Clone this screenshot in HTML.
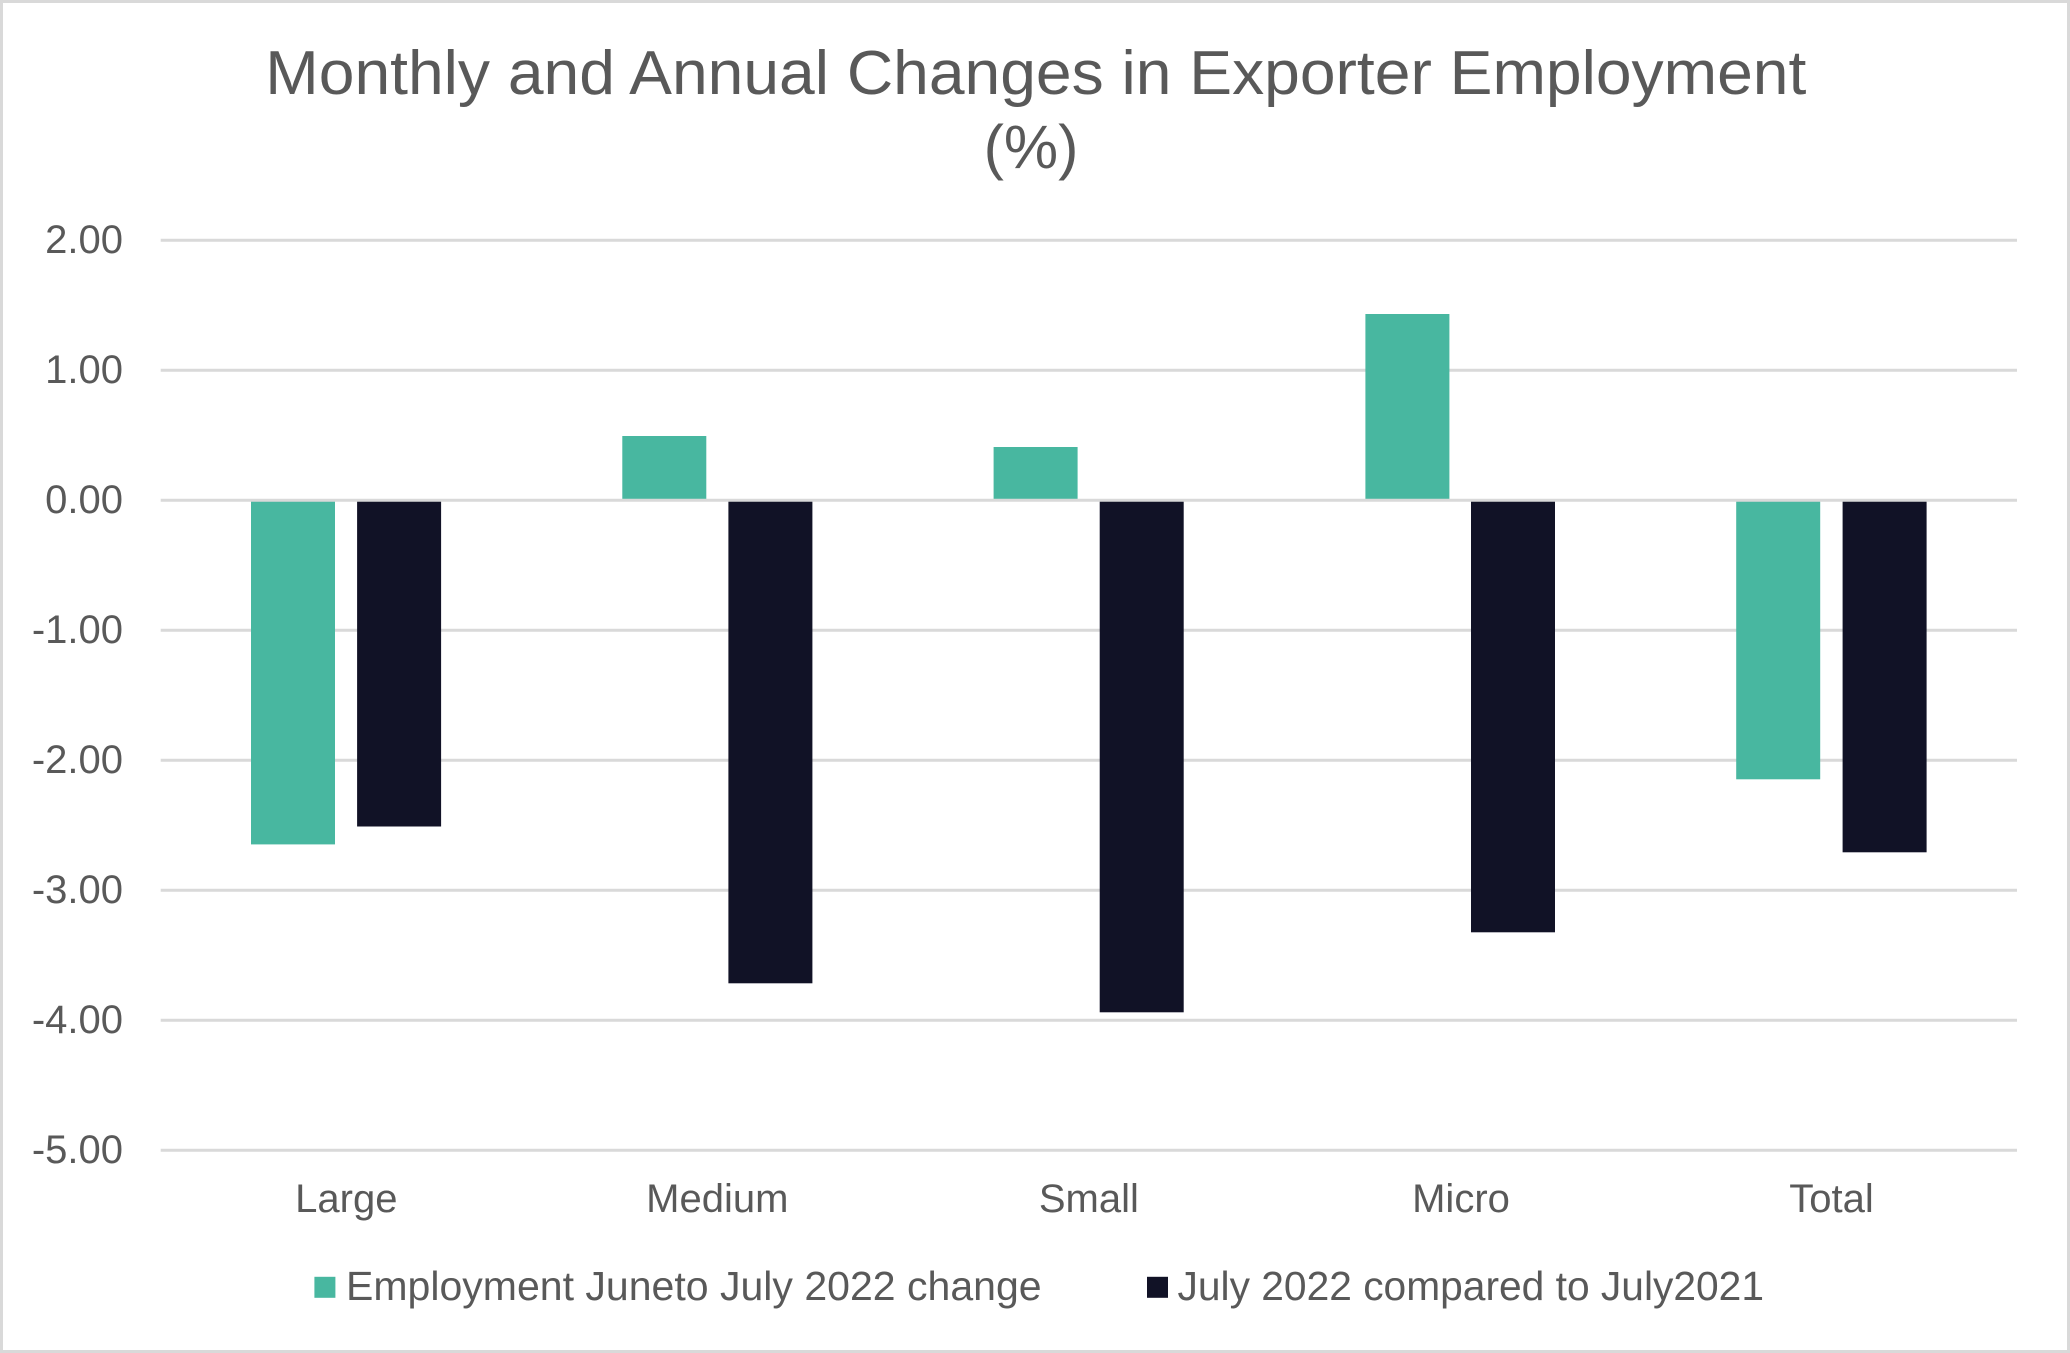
<!DOCTYPE html>
<html>
<head>
<meta charset="utf-8">
<style>
  html, body { margin: 0; padding: 0; background: #ffffff; }
  svg { display: block; }
  text { font-family: "Liberation Sans", Arial, sans-serif; fill: #595959; }
</style>
</head>
<body>
<svg width="2070" height="1353" viewBox="0 0 2070 1353" xmlns="http://www.w3.org/2000/svg">
  <rect x="0" y="0" width="2070" height="1353" fill="#ffffff"/>
  <rect x="1.5" y="1.5" width="2067" height="1350" fill="none" stroke="#D9D9D9" stroke-width="3"/>

  <!-- Title -->
  <text x="265.3" y="94" font-size="62" textLength="1541" lengthAdjust="spacingAndGlyphs">Monthly and Annual Changes in Exporter Employment</text>
  <text x="1031" y="168" font-size="61" text-anchor="middle">(%)</text>

  <!-- Gridlines -->
  <g stroke="#D9D9D9" stroke-width="3">
    <line x1="160.7" y1="240.3" x2="2017" y2="240.3"/>
    <line x1="160.7" y1="370.3" x2="2017" y2="370.3"/>
    <line x1="160.7" y1="630.3" x2="2017" y2="630.3"/>
    <line x1="160.7" y1="760.3" x2="2017" y2="760.3"/>
    <line x1="160.7" y1="890.3" x2="2017" y2="890.3"/>
    <line x1="160.7" y1="1020.3" x2="2017" y2="1020.3"/>
    <line x1="160.7" y1="1150.3" x2="2017" y2="1150.3"/>
  </g>

  <!-- Y labels -->
  <g font-size="40" text-anchor="end">
    <text x="123" y="253.2">2.00</text>
    <text x="123" y="383.2">1.00</text>
    <text x="123" y="513.2">0.00</text>
    <text x="123" y="643.2">-1.00</text>
    <text x="123" y="773.2">-2.00</text>
    <text x="123" y="903.2">-3.00</text>
    <text x="123" y="1033.2">-4.00</text>
    <text x="123" y="1163.2">-5.00</text>
  </g>

  <!-- Bars: green series -->
  <g fill="#48B7A0">
    <rect x="251" y="500.3" width="84" height="344.1"/>
    <rect x="622.3" y="436" width="84" height="64.3"/>
    <rect x="993.6" y="447" width="84" height="53.3"/>
    <rect x="1365.4" y="314" width="84" height="186.3"/>
    <rect x="1736.2" y="500.3" width="84" height="279"/>
  </g>
  <!-- Bars: dark series -->
  <g fill="#111226">
    <rect x="357.1" y="500.3" width="84" height="326.2"/>
    <rect x="728.4" y="500.3" width="84" height="483"/>
    <rect x="1099.7" y="500.3" width="84" height="512"/>
    <rect x="1471" y="500.3" width="84" height="432"/>
    <rect x="1842.6" y="500.3" width="84" height="352"/>
  </g>

  <!-- Zero axis line on top -->
  <line x1="160.7" y1="500.3" x2="2017" y2="500.3" stroke="#D9D9D9" stroke-width="3"/>

  <!-- X labels -->
  <g font-size="40" text-anchor="middle">
    <text x="346.3" y="1212">Large</text>
    <text x="717.3" y="1212">Medium</text>
    <text x="1088.9" y="1212">Small</text>
    <text x="1461" y="1212">Micro</text>
    <text x="1831.5" y="1212">Total</text>
  </g>

  <!-- Legend -->
  <rect x="314.4" y="1276.8" width="21" height="21" fill="#48B7A0"/>
  <text x="346" y="1300" font-size="41" textLength="695.6" lengthAdjust="spacingAndGlyphs">Employment Juneto July 2022 change</text>
  <rect x="1147" y="1276.8" width="21" height="21" fill="#111226"/>
  <text x="1177.5" y="1300" font-size="41" textLength="586.5" lengthAdjust="spacingAndGlyphs">July 2022 compared to July2021</text>
</svg>
</body>
</html>
